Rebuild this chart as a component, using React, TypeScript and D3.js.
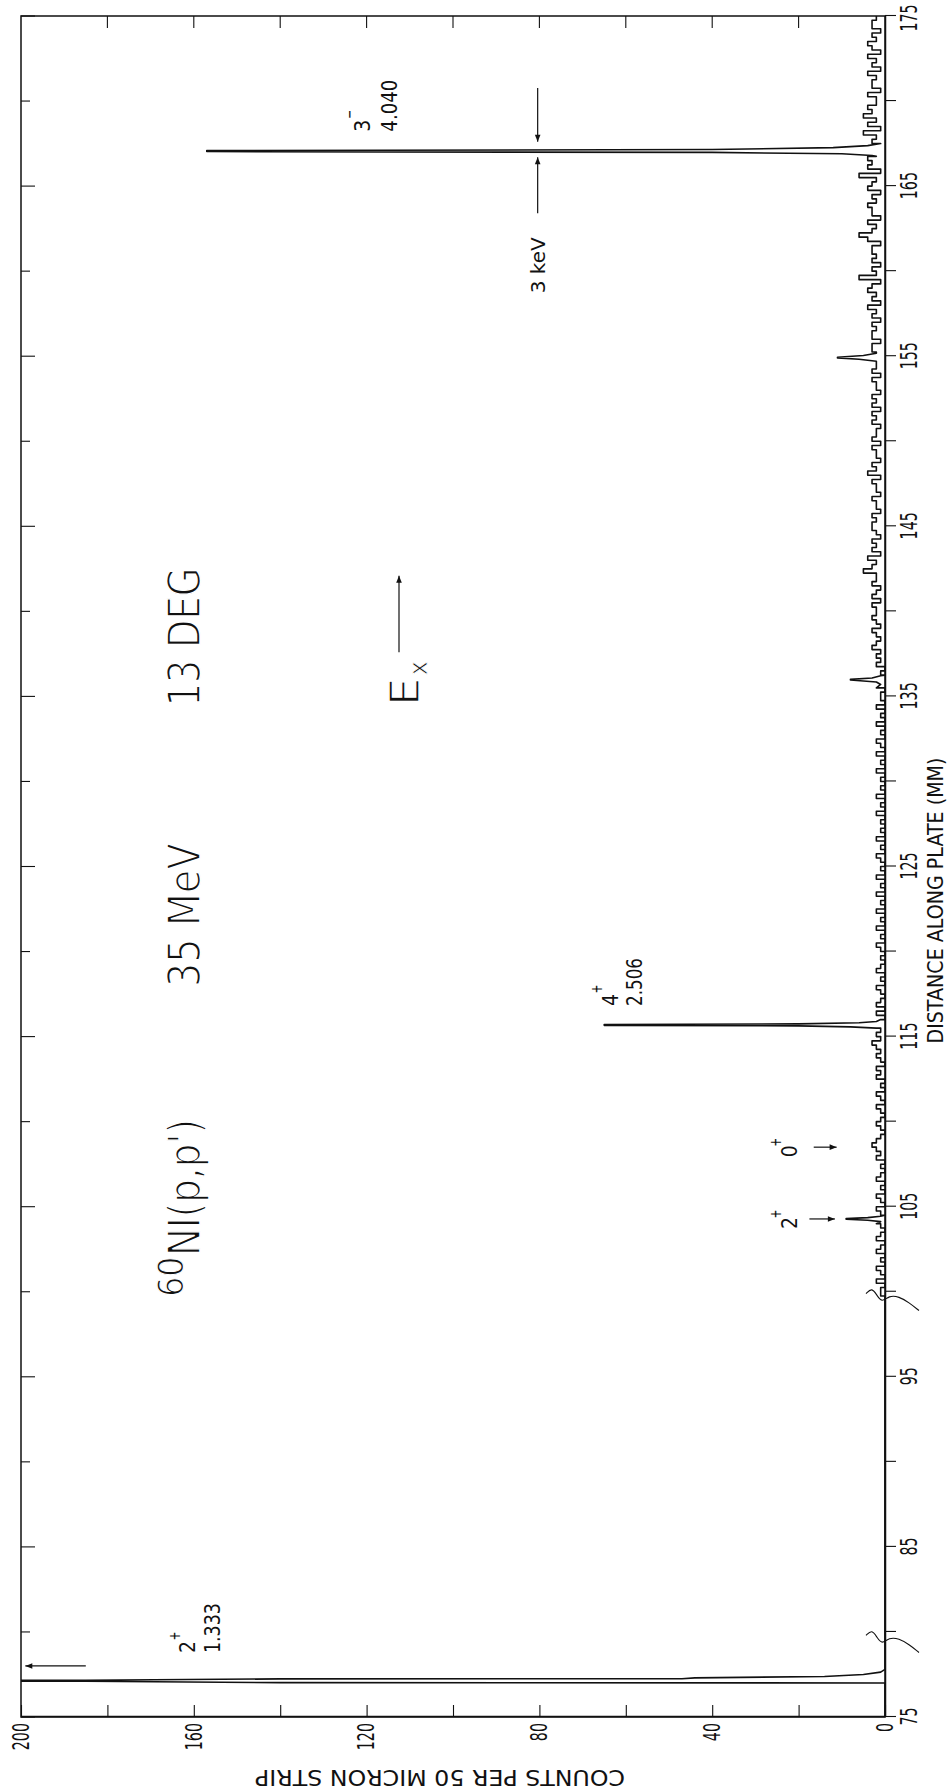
import { useEffect, useRef } from 'react'
import * as d3 from 'd3'

// counts per 50 micron strip, read every 0.25 mm along the plate
const STEP = 0.25
const bg099 = [0, 1]
const bg100 = [1, 0, 2, 0, 1, 2, 0, 1, 0, 2, 1, 0, 2, 1, 0, 1, 2, 0, 1, 2]
const bg105 = [0, 1, 2, 0, 1, 0, 2, 1, 0, 1, 0, 2, 1, 2, 3, 2, 1, 0, 1, 2]
const bg110 = [1, 0, 1, 2, 0, 1, 2, 0, 1, 0, 2, 1, 2, 0, 1, 2, 1, 2, 3, 1]
const bg115 = [2, 1, 2, 1, 0, 2, 0, 2, 1, 0, 1, 2, 0, 1, 0, 2, 1, 0, 1, 0]
const bg120 = [1, 2, 0, 1, 0, 2, 0, 1, 0, 2, 0, 1, 0, 2, 0, 1, 0, 2, 0, 1]
const bg125 = [0, 1, 2, 0, 1, 0, 2, 0, 1, 0, 1, 0, 2, 0, 1, 0, 2, 0, 1, 0]
const bg130 = [1, 0, 2, 0, 1, 0, 2, 0, 1, 2, 0, 1, 0, 2, 0, 1, 0, 2, 0, 1]
const bg135 = [1, 0, 2, 1, 0, 1, 0, 2, 1, 2, 1, 3, 2, 1, 2, 3, 1, 2, 3, 2]
const bg140 = [2, 3, 1, 3, 2, 1, 3, 2, 2, 5, 3, 2, 4, 1, 3, 2, 3, 1, 2, 3]
const bg145 = [3, 2, 3, 1, 2, 2, 3, 1, 2, 2, 3, 1, 4, 2, 3, 1, 2, 2, 3, 1]
const bg150 = [3, 2, 2, 1, 3, 2, 3, 1, 3, 2, 3, 1, 2, 2, 3, 1, 3, 2, 2, 2]
const bg155 = [2, 3, 3, 1, 3, 3, 2, 3, 1, 3, 2, 4, 1, 3, 2, 4, 3, 1, 6, 2]
const bg160 = [3, 1, 3, 2, 3, 3, 1, 4, 6, 3, 2, 4, 1, 3, 3, 4, 2, 3, 1, 4]
const bg165 = [3, 2, 6, 1, 4, 3, 4, 2, 3, 1, 3, 2, 5, 1, 4, 2, 5, 3, 4, 2]
const bg170 = [2, 4, 1, 3, 3, 2, 4, 1, 3, 2, 4, 1, 3, 4, 2, 3, 1, 3, 3, 2]
const bgBlocks: [number, number[]][] = [
  [99.5, bg099], [100, bg100], [105, bg105], [110, bg110], [115, bg115],
  [120, bg120], [125, bg125], [130, bg130], [135, bg135], [140, bg140],
  [145, bg145], [150, bg150], [155, bg155], [160, bg160], [165, bg165],
  [170, bg170],
]

// peaks traced point by point [mm, counts]
const peak1333 = [[75, 0], [77.0, 0], [77.02, 140], [77.1, 185], [77.12, 300], [77.14, 300], [77.16, 185], [77.24, 140], [77.25, 47], [77.3, 44], [77.38, 14], [77.5, 5], [77.64, 1], [77.8, 0], [99.5, 0]]
const peak2p = [[104.12, 1], [104.2, 4], [104.26, 9], [104.3, 9], [104.36, 4], [104.44, 1]]
const peak4p = [[115.5, 2], [115.57, 8], [115.63, 20], [115.66, 65], [115.71, 65], [115.75, 20], [115.81, 6], [115.89, 2]]
const peak136 = [[135.7, 1], [135.85, 2], [135.96, 8], [136.0, 8], [136.08, 3], [136.22, 1]]
const peak155 = [[154.7, 2], [154.82, 6], [154.9, 11], [154.94, 11], [155.04, 5], [155.17, 2]]
const peak3m = [[166.8, 3], [166.9, 10], [166.98, 40], [167.03, 157], [167.09, 157], [167.15, 40], [167.26, 12], [167.38, 4]]
const peaks = [peak1333, peak2p, peak4p, peak136, peak155, peak3m]

const countTicks = [0, 20, 40, 60, 80, 100, 120, 140, 160, 180, 200]
const countLabels = [0, 40, 80, 120, 160, 200]
const mmTicks = [75, 80, 85, 90, 95, 100, 105, 110, 115, 120, 125, 130, 135, 140, 145, 150, 155, 160, 165, 170, 175]
const mmLabels = [75, 85, 95, 105, 115, 125, 135, 145, 155, 165, 175]
const axisBreaks = [79.5, 99.6]

// each strip reading is drawn as a flat step; peaks are joined point to point
function buildSpectrum() {
  let pts: number[][] = []
  bgBlocks.forEach(([start, vals]) => {
    vals.forEach((v, i) => {
      const m = start + i * STEP
      pts.push([m, v], [m + STEP * 0.999, v])
    })
  })
  peaks.forEach(p => {
    const lo = p[0][0], hi = p[p.length - 1][0]
    pts = pts.filter(d => d[0] < lo || d[0] > hi).concat(p)
  })
  return pts.sort((a, b) => a[0] - b[0])
}

export default function App() {
  const svgRef = useRef<SVGSVGElement>(null)

  useEffect(() => {
    document.body.style.margin = '0'
    const svg = d3.select(svgRef.current)
    svg.selectAll('*').remove()

    // screen frame of the (rotated) plot
    const L = 21, R = 885, T = 16, B = 1717
    const W = B - T   // distance axis length
    const H = R - L   // counts axis length
    const font = '"DejaVu Sans", sans-serif'
    const ink = '#111'

    const x = d3.scaleLinear().domain([75, 175]).range([0, W])
    const y = d3.scaleLinear().domain([0, 200]).range([H, 0])

    const defs = svg.append('defs')
    defs.append('clipPath').attr('id', 'plot-clip')
      .append('rect').attr('x', 0).attr('y', 0).attr('width', W).attr('height', H)
    defs.append('marker')
      .attr('id', 'head')
      .attr('viewBox', '0 0 10 10')
      .attr('refX', 10).attr('refY', 5)
      .attr('markerWidth', 10).attr('markerHeight', 7)
      .attr('markerUnits', 'userSpaceOnUse')
      .attr('orient', 'auto')
      .append('path').attr('d', 'M0,1 L10,5 L0,9 Z').attr('fill', ink)

    // whole chart drawn upright, then turned a quarter turn anticlockwise
    const g = svg.append('g').attr('transform', `translate(${L},${B}) rotate(-90)`)

    g.append('rect')
      .attr('width', W).attr('height', H)
      .attr('fill', 'none').attr('stroke', ink).attr('stroke-width', 1.5)

    // ticks on the far edges of the frame
    g.append('g').selectAll('line').data(mmTicks).enter().append('line')
      .attr('x1', d => x(d)).attr('x2', d => x(d))
      .attr('y1', 0).attr('y2', d => ((d - 75) % 10 === 0 ? 14 : 9))
      .attr('stroke', ink).attr('stroke-width', 1.1)
    g.append('g').selectAll('line').data(countTicks.slice(1, -1)).enter().append('line')
      .attr('x1', W).attr('x2', W - 12)
      .attr('y1', d => y(d)).attr('y2', d => y(d))
      .attr('stroke', ink).attr('stroke-width', 1.1)

    // narrow plotter-style digits
    const narrow = 'scale(0.62,1)'

    // distance axis
    const xAxis = g.append('g')
      .attr('transform', `translate(0,${H})`)
      .call(d3.axisBottom(x).tickValues(mmTicks).tickSizeInner(11).tickSizeOuter(0).tickPadding(5)
        .tickFormat(d => (mmLabels.includes(+d) ? String(d) : '')))
    xAxis.select('.domain').attr('stroke', ink).attr('stroke-width', 1.5)
    xAxis.selectAll('line').attr('stroke', ink).attr('stroke-width', 1.1)
    xAxis.selectAll('text')
      .attr('font-family', font).attr('font-size', 23).attr('fill', ink)
      .attr('transform', narrow)
    // keep the last label inside the page
    xAxis.selectAll<SVGTextElement, number>('text').filter(d => d === 175).attr('dx', -4)

    // counts axis
    const yAxis = g.append('g')
      .call(d3.axisLeft(y).tickValues(countTicks).tickSizeInner(-12).tickSizeOuter(0).tickPadding(6)
        .tickFormat(d => (countLabels.includes(+d) ? String(d) : '')))
    yAxis.select('.domain').attr('stroke', ink).attr('stroke-width', 1.5)
    yAxis.selectAll('line').attr('stroke', ink).attr('stroke-width', 1.1)
    yAxis.selectAll('text')
      .attr('font-family', font).attr('font-size', 23).attr('fill', ink)
      .attr('x', -6 / 0.62)
      .attr('transform', narrow)

    g.append('text')
      .attr('x', x(123)).attr('y', H + 58)
      .attr('text-anchor', 'middle')
      .attr('font-family', font).attr('font-size', 22).attr('fill', ink)
      .attr('textLength', 286).attr('lengthAdjust', 'spacingAndGlyphs')
      .text('DISTANCE ALONG PLATE (MM)')
    g.append('text')
      .attr('transform', `translate(-53,${y(103)}) rotate(-90)`)
      .attr('text-anchor', 'middle')
      .attr('font-family', font).attr('font-size', 22).attr('fill', ink)
      .attr('textLength', 370).attr('lengthAdjust', 'spacingAndGlyphs')
      .text('COUNTS PER 50 MICRON STRIP')

    // axis breaks
    const squiggle = d3.line().curve(d3.curveBasis)
    axisBreaks.forEach(m => {
      g.append('path')
        .attr('transform', `translate(${x(m)},${H})`)
        .attr('d', squiggle([[5, -19], [11, -13], [3, -8], [-4, -3], [3, 4], [2, 14], [-4, 24], [-12, 34]]))
        .attr('fill', 'none').attr('stroke', ink).attr('stroke-width', 1.1)
    })

    // spectrum
    const spectrum = buildSpectrum()
    g.append('path')
      .datum(spectrum)
      .attr('clip-path', 'url(#plot-clip)')
      .attr('fill', 'none').attr('stroke', ink).attr('stroke-width', 1.6)
      .attr('stroke-linejoin', 'round')
      .attr('d', d3.line<number[]>().x(d => x(d[0])).y(d => y(d[1])))

    // arrows
    const arrow = (x1: number, y1: number, x2: number, y2: number) => {
      g.append('line')
        .attr('x1', x1).attr('y1', y1).attr('x2', x2).attr('y2', y2)
        .attr('stroke', ink).attr('stroke-width', 1.2)
        .attr('marker-end', 'url(#head)')
    }
    arrow(x(78.0), y(185), x(78.0), y(199))
    arrow(x(104.28), y(17.5), x(104.28), y(11.6))
    arrow(x(108.5), y(16.5), x(108.5), y(11.2))
    arrow(x(170.77), y(80.4), x(167.6), y(80.4))
    arrow(x(163.4), y(80.4), x(166.7), y(80.4))
    arrow(x(137.6), y(112.5), x(142.1), y(112.5))

    // texts
    const label = (txt: string, px: number, py: number, size: number, len: number, anchor = 'start', thin = 0) => {
      g.append('text')
        .attr('x', px).attr('y', py)
        .attr('text-anchor', anchor)
        .attr('font-family', font).attr('font-size', size).attr('fill', ink)
        .attr('stroke', thin ? '#fff' : 'none').attr('stroke-width', thin)
        .attr('textLength', len).attr('lengthAdjust', 'spacingAndGlyphs')
        .text(txt)
    }
    // big titles
    label('60', x(99.7), y(162.6), 36, 40, 'start', 1.2)
    label('NI(p,p\')', x(102.1), y(158.6), 45, 137, 'start', 1.6)
    label('35 MeV', x(117.9), y(158.6), 44, 144, 'start', 1.6)
    label('13 DEG', x(134.4), y(158.6), 44, 139, 'start', 1.6)
    label('E', x(134.45), y(107.8), 41, 28, 'start', 1.4)
    label('x', x(136.25), y(106), 24, 14, 'start', 0.8)

    // level labels
    label('2', x(78.76), y(159.7), 22, 12)
    label('+', x(79.5), y(163.3), 16, 9)
    label('1.333', x(78.76), y(153.9), 22, 50)
    label('4', x(116.8), y(61.9), 22, 12)
    label('+', x(117.54), y(65.5), 16, 9)
    label('2.506', x(116.8), y(56.3), 22, 48)
    label('3', x(168.2), y(119.2), 22, 12)
    label('\u2212', x(168.94), y(122.8), 16, 9)
    label('4.040', x(168.2), y(113.0), 22, 52)
    label('2', x(104.28) - 4, y(20.4), 22, 12, 'middle')
    label('+', x(104.28) + 5, y(24), 16, 9, 'middle')
    label('0', x(108.5) - 4, y(20.4), 22, 12, 'middle')
    label('+', x(108.5) + 5, y(24), 16, 9, 'middle')
    label('3 keV', x(158.7), y(78.6), 20, 56)
  }, [])

  return (
    <svg
      ref={svgRef}
      width={948}
      height={1792}
      style={{ position: 'absolute', left: 0, top: 0, background: '#fff' }}
    />
  )
}
